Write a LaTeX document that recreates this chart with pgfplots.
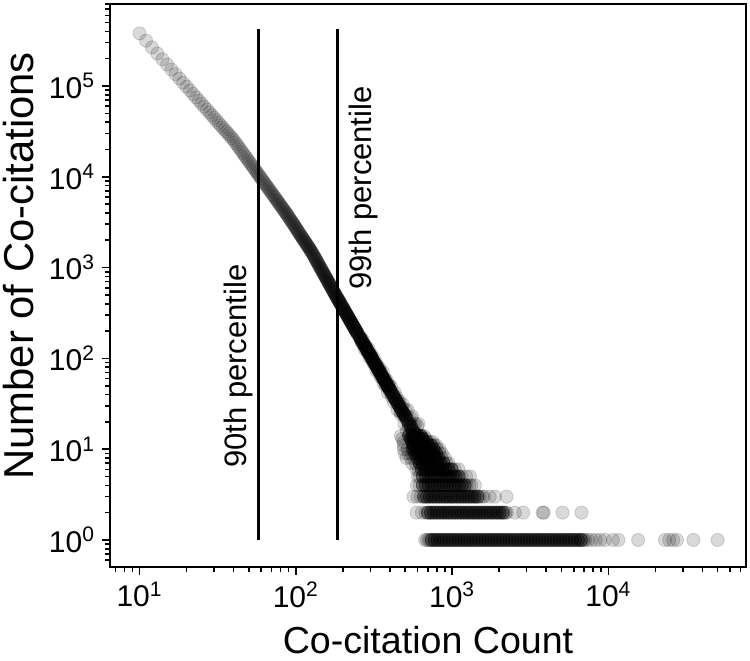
\documentclass[border=0pt]{standalone}
\usepackage{fontspec}
\setmainfont{Liberation Sans}
\usepackage{pgfplots}
\pgfplotsset{compat=1.18}

\pgfplotsset{
  pt/.style={only marks, mark=*, mark size=3.3pt,
    mark options={draw=black, fill=black, opacity=#1}},
}

\begin{document}
\begin{tikzpicture}
\begin{axis}[
  scale only axis,
  width=318pt, height=281.5pt,
  xmode=log, ymode=log,
  xmin=6.47, xmax=7.6e4,
  ymin=0.504, ymax=8.0e5,
  axis line style={line width=1pt},
  tick align=outside,
  tick pos=left,
  major tick length=4pt,
  minor tick length=2.5pt,
  every tick/.style={black, line width=0.8pt},
  xticklabel={\pgfmathparse{int(round(\tick/ln(10)))}10\textsuperscript{\pgfmathresult}},
  yticklabel={\pgfmathparse{int(round(\tick/ln(10)))}10\textsuperscript{\pgfmathresult}},
  tick label style={font=\fontsize{15}{17}\selectfont},
  xlabel={Co-citation Count},
  ylabel={Number of Co-citations},
  xlabel style={font=\fontsize{18.8}{22}\selectfont, at={(ticklabel cs:0.5,2.5pt)}},
  ylabel style={font=\fontsize{20.9}{24}\selectfont, at={(ticklabel cs:0.535,0.5pt)}},
]

% head of the distribution, one point per count
\addplot[pt=0.15] table[row sep=\\] {
x y\\
10 380000\\ 11 315600\\ 12 266300\\ 13 227800\\ 14 197100\\ 15 172300\\ 16 152000\\ 17 135000\\ 18 120800\\ 19 108700\\
20 98300\\ 21 89400\\ 22 81700\\ 23 74900\\ 24 68900\\ 25 63700\\ 26 59000\\ 27 54800\\ 28 51000\\ 29 47700\\
30 44600\\ 31 41800\\ 32 39300\\ 33 37000\\ 34 34900\\ 35 33000\\ 36 31300\\ 37 29600\\ 38 28100\\ 39 26700\\
40 25400\\ 41 23900\\ 42 22600\\ 43 21400\\ 44 20200\\ 45 19100\\ 46 18200\\ 47 17200\\ 48 16400\\ 49 15600\\
50 14900\\ 51 14210\\ 52 13560\\ 53 12960\\ 54 12390\\ 55 11850\\ 56 11350\\ 57 10880\\ 58 10430\\ 59 10010\\
60 9620\\ 61 9250\\ 62 8890\\ 63 8560\\ 64 8240\\ 65 7940\\ 66 7650\\ 67 7380\\ 68 7120\\ 69 6880\\
70 6650\\ 71 6420\\ 72 6210\\ 73 6010\\ 74 5820\\ 75 5630\\ 76 5450\\ 77 5290\\ 78 5120\\ 79 4970\\
80 4820\\ 81 4670\\ 82 4540\\ 83 4410\\ 84 4280\\ 85 4160\\ 86 4050\\ 87 3940\\ 88 3830\\ 89 3730\\
90 3610\\ 91 3500\\ 92 3400\\ 93 3310\\ 94 3220\\ 95 3140\\ 96 3060\\ 97 2980\\ 98 2900\\ 99 2820\\
100 2740\\ 101 2670\\ 102 2600\\ 103 2530\\ 104 2465\\ 105 2405\\ 106 2345\\ 107 2290\\ 108 2235\\ 109 2180\\
110 2130\\ 111 2080\\ 112 2035\\ 113 1990\\ 114 1945\\ 115 1900\\ 116 1860\\ 117 1815\\ 118 1775\\ 119 1740\\
120 1700\\ 121 1665\\ 122 1630\\ 123 1595\\ 124 1561\\ 125 1528\\ 126 1496\\ 127 1460\\ 128 1425\\ 129 1391\\
130 1358\\ 131 1326\\ 132 1295\\ 133 1266\\ 134 1237\\ 135 1209\\ 136 1181\\ 137 1154\\ 138 1128\\ 139 1104\\
140 1080\\ 141 1056\\ 142 1033\\ 143 1011\\ 144 989\\ 145 968\\ 146 948\\ 147 928\\ 148 909\\ 149 890\\
150 872\\ 151 854\\ 152 837\\ 153 820\\ 154 803\\ 155 787\\ 156 772\\ 157 757\\ 158 742\\ 159 728\\
160 714\\ 161 700\\ 162 687\\ 163 674\\ 164 661\\ 165 649\\ 166 637\\ 167 625\\ 168 613\\ 169 602\\
170 591\\ 171 580\\ 172 570\\ 173 560\\ 174 550\\ 175 540\\ 176 531\\ 177 522\\ 178 513\\ 179 504\\
180 495\\ 181 487\\ 182 479\\ 183 471\\ 184 464\\ 185 456\\ 186 449\\ 187 442\\ 188 435\\ 189 428\\
190 421\\ 191 414\\ 192 408\\ 193 402\\ 194 396\\ 195 390\\ 196 384\\ 197 378\\ 198 372\\ 199 366\\
200 361\\ 201 356\\ 202 351\\ 203 345\\ 204 340\\ 205 335\\ 206 330\\ 207 325\\ 208 321\\ 209 316\\
210 312\\ 211 307\\ 212 303\\ 213 299\\ 214 295\\ 215 291\\ 216 287\\ 217 283\\ 218 279\\ 219 275\\
220 271\\ 221 267\\ 222 264\\ 223 260\\ 224 257\\ 225 253\\ 226 250\\ 227 247\\ 228 244\\ 229 240\\
230 237\\ 231 234\\ 232 231\\ 233 228\\ 234 225\\ 235 222\\ 236 220\\ 237 217\\ 238 214\\ 239 211\\
240 209\\ 241 206\\ 242 204\\ 243 201\\ 244 199\\ 245 196\\ 246 194\\ 247 191\\ 248 189\\ 249 187\\
250 185\\
};

% scattered points of the tail band
\addplot[pt=0.15] table[row sep=\\] {
x y\\
260 169\\ 264 149\\ 268 160\\ 272 141\\ 276 126\\ 280 138\\ 284 127\\ 288 116\\ 292 127\\ 296 103\\
300 110\\ 304 110\\ 308 98\\ 312 90\\ 316 100\\ 320 85\\ 324 89\\ 328 73\\ 332 84\\ 336 74\\
340 75\\ 344 78\\ 348 63\\ 352 69\\ 356 61\\ 360 71\\ 364 53\\ 368 58\\ 372 60\\ 376 50\\
380 58\\ 384 50\\ 388 42\\ 392 50\\ 396 51\\ 400 43\\ 406 49\\ 412 38\\ 418 41\\ 424 33\\
430 42\\ 436 35\\ 442 37\\ 448 27\\ 454 33\\ 460 34\\ 466 26\\ 472 24\\ 478 29\\ 484 31\\
490 24\\ 496 19\\ 502 27\\ 508 23\\ 514 16\\ 520 27\\ 526 18\\ 532 21\\ 538 15\\ 544 22\\
550 17\\ 556 23\\ 562 11\\ 568 18\\ 574 13\\ 580 19\\ 586 10\\ 592 14\\ 598 18\\ 604 11\\
610 19\\ 616 9\\ 622 12\\ 628 14\\ 634 7\\
};

% dense core of the band and of the rows
\addplot[pt=0.45] table[row sep=\\] {
x y\\
256 172\\ 260 164\\ 265 155\\ 270 147\\ 275 139\\ 280 132\\ 285 125\\ 290 118\\ 295 113\\ 300 107\\
305 102\\ 310 97\\ 316 91.6\\ 322 86.5\\ 328 81.9\\ 334 77.5\\ 340 73.5\\ 346 69.7\\ 352 66.2\\ 358 63\\
364 59.9\\ 370 57\\ 376 54.3\\ 382 51.8\\ 388 49.5\\ 394 47.2\\ 400 45.1\\ 410 41.9\\ 420 39\\ 430 36.3\\
440 33.9\\ 450 31.7\\ 460 29.7\\ 470 27.8\\ 480 26.1\\ 490 24.6\\ 500 23.1\\ 515 21\\ 530 19\\ 545 18\\
560 16\\ 575 15\\ 590 14\\ 605 13\\ 620 12\\ 635 11\\ 650 10\\
530 14\\ 555 14\\ 580 14\\ 606 14\\ 632 14\\
545 13\\ 570 13\\ 596 13\\ 622 13\\ 648 13\\
555 12\\ 580 12\\ 606 12\\ 633 12\\ 660 12\\ 688 12\\
565 11\\ 590 11\\ 616 11\\ 644 11\\ 673 11\\ 703 11\\ 733 11\\
560 10\\ 585 10\\ 611 10\\ 639 10\\ 667 10\\ 697 10\\ 729 10\\ 761 10\\
580 9\\ 606 9\\ 633 9\\ 662 9\\ 691 9\\ 722 9\\ 755 9\\ 789 9\\
600 8\\ 627 8\\ 655 8\\ 685 8\\ 715 8\\ 747 8\\ 781 8\\ 816 8\\
620 7\\ 648 7\\ 677 7\\ 707 7\\ 739 7\\ 772 7\\ 807 7\\ 843 7\\ 881 7\\
640 6\\ 669 6\\ 699 6\\ 730 6\\ 763 6\\ 797 6\\ 833 6\\ 870 6\\ 909 6\\ 950 6\\ 993 6\\
650 5\\ 679 5\\ 710 5\\ 742 5\\ 775 5\\ 810 5\\ 846 5\\ 884 5\\ 924 5\\ 966 5\\ 1009 5\\ 1054 5\\ 1102 5\\
650 4\\ 679 4\\ 710 4\\ 742 4\\ 775 4\\ 810 4\\ 846 4\\ 884 4\\ 924 4\\ 966 4\\ 1009 4\\ 1054 4\\ 1102 4\\ 1151 4\\ 1203 4\\
660 3\\ 690 3\\ 721 3\\ 753 3\\ 787 3\\ 822 3\\ 859 3\\ 898 3\\ 938 3\\ 980 3\\ 1024 3\\ 1070 3\\ 1118 3\\ 1169 3\\ 1221 3\\ 1276 3\\ 1334 3\\ 1394 3\\ 1456 3\\
700 2\\ 732 2\\ 764 2\\ 799 2\\ 835 2\\ 872 2\\ 911 2\\ 952 2\\ 995 2\\ 1040 2\\ 1087 2\\ 1136 2\\ 1187 2\\
1240 2\\ 1296 2\\ 1354 2\\ 1415 2\\ 1479 2\\ 1545 2\\ 1615 2\\ 1688 2\\ 1764 2\\ 1843 2\\ 1926 2\\ 2013 2\\ 2103 2\\
740 1\\ 773 1\\ 808 1\\ 844 1\\ 882 1\\ 922 1\\ 963 1\\ 1007 1\\ 1052 1\\ 1099 1\\ 1149 1\\ 1200 1\\ 1254 1\\
1311 1\\ 1370 1\\ 1431 1\\ 1496 1\\ 1563 1\\ 1633 1\\ 1707 1\\ 1783 1\\ 1864 1\\ 1947 1\\ 2035 1\\ 2127 1\\
2222 1\\ 2322 1\\ 2427 1\\ 2536 1\\ 2650 1\\ 2769 1\\ 2894 1\\ 3024 1\\ 3160 1\\ 3302 1\\ 3451 1\\ 3606 1\\
3768 1\\ 3938 1\\ 4115 1\\ 4300 1\\ 4494 1\\ 4696 1\\ 4907 1\\ 5128 1\\ 5359 1\\ 5600 1\\ 5852 1\\ 6115 1\\
6391 1\\ 6678 1\\
};

% loose points at the ends of the rows
\addplot[pt=0.15] table[row sep=\\] {
x y\\
470 14\\ 660 14\\ 480 13\\ 680 13\\ 490 12\\ 720 12\\ 750 12\\ 490 11\\ 765 11\\ 790 11\\
490 10\\ 520 10\\ 800 10\\ 830 10\\ 500 9\\ 530 9\\ 555 9\\ 830 9\\ 860 9\\
510 8\\ 545 8\\ 570 8\\ 860 8\\ 900 8\\ 555 7\\ 585 7\\ 920 7\\ 950 7\\
590 6\\ 612 6\\ 1040 6\\ 1100 6\\ 605 5\\ 625 5\\ 1150 5\\ 1230 5\\ 1300 5\\
595 4\\ 620 4\\ 1240 4\\ 1290 4\\ 1330 4\\ 1400 4\\
566 3\\ 600 3\\ 630 3\\ 1500 3\\ 1560 3\\ 1600 3\\ 1740 3\\ 1880 3\\ 2230 3\\
592 2\\ 640 2\\ 675 2\\ 2150 2\\ 2200 2\\ 2240 2\\ 2520 2\\ 2850 2\\ 3800 2\\ 3860 2\\ 5090 2\\ 6730 2\\
672 1\\ 690 1\\ 705 1\\ 720 1\\ 6800 1\\ 6950 1\\ 7100 1\\ 7400 1\\ 7800 1\\ 8300 1\\ 8870 1\\ 9500 1\\
10700 1\\ 11600 1\\ 15500 1\\ 23000 1\\ 24500 1\\ 26000 1\\ 27500 1\\ 35000 1\\ 50000 1\\
};

% percentile markers
\addplot[black, line width=1.5pt, no marks] coordinates {(58,1) (58,4.25e5)};
\addplot[black, line width=1.5pt, no marks] coordinates {(186,1) (186,4.25e5)};
\node[rotate=90, font=\fontsize{15.5}{18}\selectfont] at (axis cs:43,82) {90th percentile};
\node[rotate=90, font=\fontsize{15.5}{18}\selectfont] at (axis cs:270,7520) {99th percentile};
\end{axis}
\pgfresetboundingbox
\path (current axis.south west) ++(-55pt,-47pt) rectangle (current axis.north east) ++(2pt,2pt);
\end{tikzpicture}
\end{document}
